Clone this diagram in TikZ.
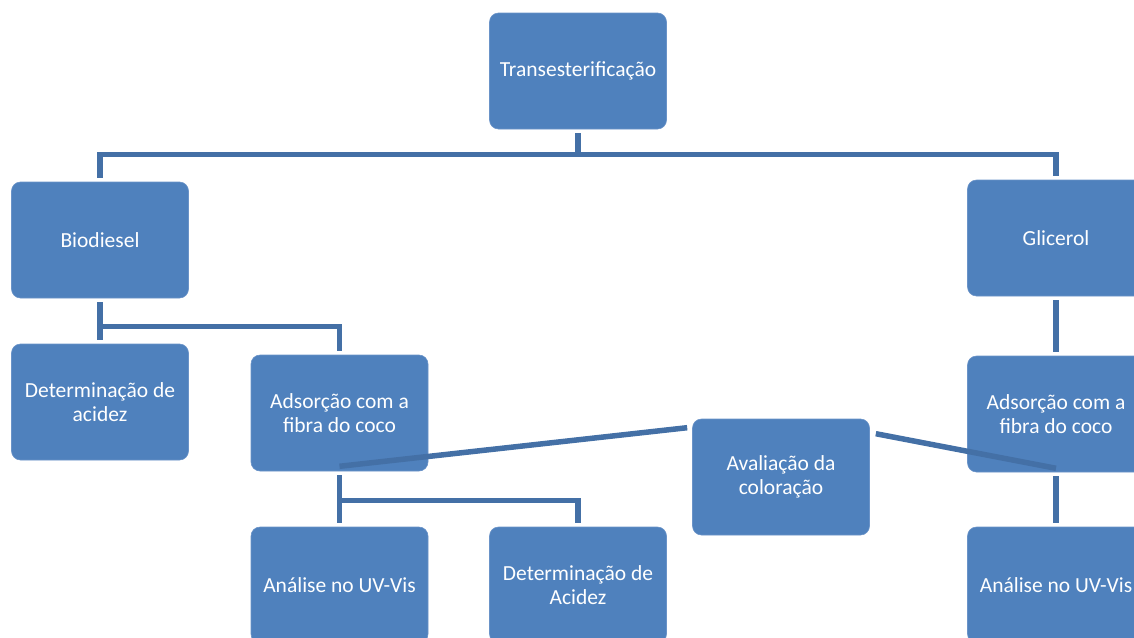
\documentclass[tikz,border=0pt]{standalone}
\usepackage{fontspec}
\setmainfont{Carlito}
\definecolor{boxfill}{HTML}{4F81BD}
\definecolor{boxedge}{HTML}{6A93C8}
\definecolor{linecol}{HTML}{4470A6}
\begin{document}
\begin{tikzpicture}[x=1pt,y=-1pt,
  box/.style={rectangle, rounded corners=9pt, fill=boxfill, draw=boxedge, line width=0.6pt,
    minimum width=177pt, minimum height=116pt, text=white, align=center, inner sep=0pt,
    font=\fontsize{21.5}{24}\selectfont},
  conn/.style={draw=linecol, line width=5.5pt, shorten <=4pt, shorten >=4pt}]
\useasboundingbox (0,0) rectangle (1134,637);
\node[box] (T) at (578,71) {Transesterificação};
\node[box] (B) at (100,240) {Biodiesel};
\node[box] (G) at (1056,238) {Glicerol};
\node[box] (D1) at (100,402) {Determinação de\\acidez};
\node[box] (AL) at (339.5,413) {Adsorção com a\\fibra do coco};
\node[box] (AR) at (1056,414) {Adsorção com a\\fibra do coco};
\node[box] (Av) at (781,477) {Avaliação da\\coloração};
\node[box] (A2) at (339.5,585) {Análise no UV-Vis};
\node[box] (D2) at (578,585) {Determinação de\\Acidez};
\node[box] (A3) at (1056,585) {Análise no UV-Vis};
% connectors
\draw[conn] (T.south) -- ++(0,25) -| (B.north);
\draw[conn] (T.south) -- ++(0,25) -| (G.north);
\draw[conn] (B.south) -- (D1.north);
\draw[conn] (B.south) -- ++(0,28) -| (AL.north);
\draw[conn] (G.south) -- (AR.north);
\draw[conn] (AL.south) -- (A2.north);
\draw[conn] (AL.south) -- ++(0,29) -| (D2.north);
\draw[conn] (AR.south) -- (A3.north);
\draw[conn, shorten <=0pt, shorten >=0pt] ([shift={(-5,9)}]Av.north west) -- ([yshift=5]AL.south);
\draw[conn, shorten <=0pt, shorten >=0pt] ([shift={(6,15)}]Av.north east) -- ([yshift=4]AR.south);
\end{tikzpicture}
\end{document}
